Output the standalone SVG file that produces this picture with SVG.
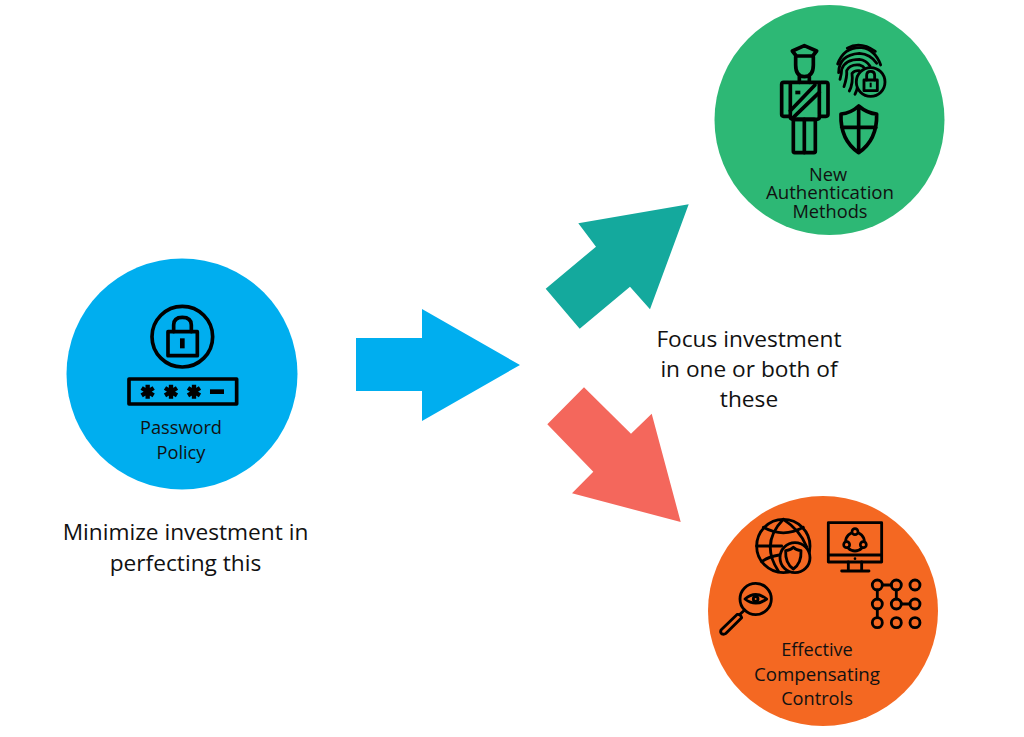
<svg xmlns="http://www.w3.org/2000/svg" width="1024" height="737" viewBox="0 0 1024 737">
<style>
text{font-family:"Open Sans","Liberation Sans",sans-serif;fill:#111;text-anchor:middle}
.big{font-size:22.7px}
.small{font-size:18.2px}
.wide{font-size:18.7px}
.i{fill:none;stroke:#000;stroke-width:11;stroke-linejoin:round;stroke-linecap:round}
.t{stroke-width:8.5}
.f{fill:#000;stroke:none}
</style>
<rect width="1024" height="737" fill="#fff"/>
<g id="connectors">
<polygon points="356,338 422,338 422,309 520,365 422,421 422,391 356,391" fill="#00aeef"/>
<polygon points="688.7,204.3 578.3,223.3 596,246.7 545.7,288.7 579.7,328.7 630,286.7 650,309.3" fill="#14a99d"/>
<polygon points="584,387.3 631,433.7 651.7,413.7 680.7,522 572,493.3 593.3,471.7 547.3,424.3" fill="#f4675c"/>
</g>
<g id="password-policy">
<circle cx="182" cy="374" r="115.5" fill="#00aeef"/>
<g transform="translate(110,290) scale(.3333)">
<circle class="i" cx="217" cy="140" r="91"/>
<rect class="i" x="174" y="125" width="88" height="72"/>
<path class="i" d="M191 125V105Q191 82 217 82Q244 82 244 105V125"/>
<rect class="f" x="210" y="145" width="14" height="30"/>
<rect class="i" x="57" y="267" width="323" height="75"/>
<g class="i" style="stroke-width:13;stroke-linecap:butt">
<path d="M113 284V326M95 294L131 316M95 316L131 294"/>
<path d="M183 284V326M165 294L201 316M165 316L201 294"/>
<path d="M252 284V326M234 294L270 316M234 316L270 294"/>
</g>
<rect class="f" x="300" y="298" width="42" height="14"/>
</g>
<text class="small" x="181" y="434">Password</text>
<text class="small" x="181" y="458.500">Policy</text>
</g>
<g id="new-authentication-methods">
<circle cx="829.500" cy="120" r="115" fill="#2db875"/>
<g transform="translate(760,30) scale(.3333)">
<path class="i" d="M97 63L133 47L170 63L158 78H109Z"/>
<path class="i" d="M107 80V105Q107 140 133 140Q160 140 160 105V80"/>
<path class="i" d="M118 140V157M148 140V157"/>
<rect class="i" x="65" y="157" width="26" height="102" rx="6"/>
<rect class="i" x="178" y="157" width="26" height="102" rx="6"/>
<path class="i" d="M91 157H178M91 259V262Q91 268 100 268H170Q178 268 178 262V259"/>
<path class="i" d="M91 242L165 165M97 265L178 187"/>
<rect class="f" x="106" y="182" width="15" height="11"/>
<rect class="i" x="100" y="268" width="66" height="100" rx="4"/>
<path class="i" d="M133 268V368"/>
<g class="i t">
<path d="M262 55Q300 32 346 64"/>
<path d="M233 102Q252 50 305 53Q345 58 362 105"/>
<path d="M236 128Q236 75 298 70Q332 72 350 100"/>
<path d="M240 148Q245 130 245 118Q255 88 298 88Q318 90 330 108"/>
<path d="M252 170Q262 140 260 122Q270 102 298 105Q310 108 315 116"/>
<path d="M268 183Q280 160 276 130Q285 120 298 122"/>
<path d="M285 193Q296 175 292 140"/>
</g>
<circle cx="332" cy="156" r="43" fill="#2db875" stroke="#000" stroke-width="8.500"/>
<rect class="i t" x="312" y="150" width="40" height="32"/>
<path class="i t" d="M320 150V136Q320 124 332 124Q344 124 344 136V150"/>
<rect class="f" x="329" y="158" width="6" height="14"/>
<path class="i" d="M296 228Q272 250 243 252Q240 330 296 368Q352 330 350 252Q322 250 296 228ZM296 228V368M245 292H348"/>
</g>
<text class="small" x="828" y="181">New</text>
<text class="wide" x="830" y="198.500">Authentication</text>
<text class="small" x="830" y="217.500">Methods</text>
</g>
<g id="effective-compensating-controls">
<circle cx="823" cy="611" r="115" fill="#f46822"/>
<g transform="translate(740,510) scale(.3333)">
<g class="i t">
<circle cx="130" cy="108" r="80"/>
<path d="M130 28Q60 100 115 183M130 28Q180 60 200 110"/>
<path d="M70 52Q130 85 190 52M50 108H125M65 155Q85 140 118 135"/>
</g>
<circle cx="165" cy="143" r="45" fill="#f46822" stroke="#000" stroke-width="8.500"/>
<path class="i t" d="M160 112Q150 122 137 122Q135 160 160 177Q185 160 183 122Q170 122 160 112Z"/>
<g class="i t">
<rect x="265" y="38" width="160" height="118"/>
<path d="M265 135H425M325 156V183M365 156V183M305 183H387"/>
<circle cx="345" cy="95" r="28"/>
</g>
<circle cx="345" cy="146" r="4" class="f"/>
<g fill="#f46822" stroke="#000" stroke-width="8">
<circle cx="345" cy="65" r="9"/><circle cx="320" cy="104" r="9"/><circle cx="370" cy="104" r="9"/>
</g>
<g class="i t">
<circle cx="412" cy="225" r="15"/><circle cx="469" cy="225" r="15"/><circle cx="525" cy="225" r="15"/>
<circle cx="412" cy="282" r="15"/><circle cx="469" cy="282" r="15"/><circle cx="525" cy="282" r="15"/>
<circle cx="412" cy="338" r="15"/><circle cx="469" cy="338" r="15"/><circle cx="525" cy="338" r="15"/>
<path d="M427 225H454M412 240V267M412 297V323M469 240V267M484 282H510"/>
</g>
</g>
<g transform="translate(710,570) scale(.3333)">
<g class="i t">
<circle cx="137" cy="87" r="47"/>
<path d="M105 87Q137 60 170 87Q137 112 105 87Z"/>
<circle cx="137" cy="87" r="7"/>
<path d="M104 120L90 133"/>
<path d="M82 133L33 180Q30 188 36 192Q42 194 48 190L95 143Q92 132 82 133Z"/>
</g>
</g>
<text class="small" x="817" y="656">Effective</text>
<text class="wide" x="817" y="681">Compensating</text>
<text class="small" x="817" y="705">Controls</text>
</g>
<g id="captions">
<text class="big" x="185.500" y="540">Minimize investment in</text>
<text class="big" x="185.500" y="571">perfecting this</text>
<text class="big" x="749" y="347">Focus investment</text>
<text class="big" x="749" y="377">in one or both of</text>
<text class="big" x="749" y="407">these</text>
</g>
</svg>
